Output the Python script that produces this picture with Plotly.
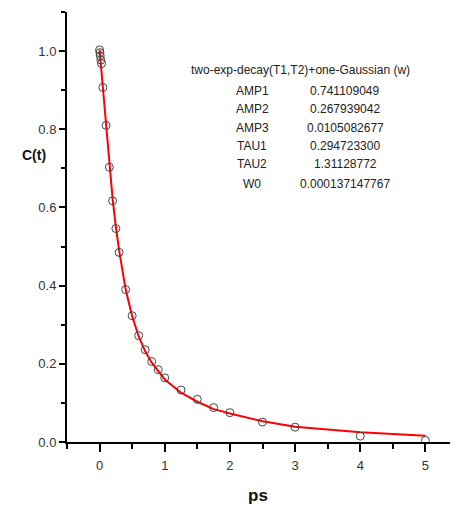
import plotly.graph_objects as go

t_data = [0.0, 0.005, 0.01, 0.02, 0.03, 0.05, 0.10, 0.15, 0.20, 0.25, 0.30, 0.40, 0.50,
          0.60, 0.70, 0.80, 0.90, 1.00, 1.25, 1.50, 1.75, 2.00, 2.50, 3.00, 4.00, 5.00]
c_data = [1.003, 0.996, 0.988, 0.977, 0.968, 0.907, 0.810, 0.703, 0.617, 0.546, 0.485, 0.390, 0.323,
          0.272, 0.236, 0.206, 0.185, 0.164, 0.133, 0.109, 0.088, 0.075, 0.051, 0.038, 0.015, 0.004]

# fitted curve (red)
t_fit = [0.0, 0.05, 0.10, 0.15, 0.20, 0.25, 0.30, 0.40, 0.50, 0.60, 0.70, 0.80, 0.90,
         1.00, 1.25, 1.50, 1.75, 2.00, 2.50, 3.00, 4.00, 5.00]
c_fit = [1.003, 0.905, 0.815, 0.710, 0.622, 0.550, 0.490, 0.390, 0.322, 0.270, 0.232, 0.203, 0.180,
         0.160, 0.126, 0.103, 0.084, 0.073, 0.053, 0.039, 0.025, 0.016]

fit_title = "two-exp-decay(T1,T2)+one-Gaussian (w)"
param_names = ["AMP1", "AMP2", "AMP3", "TAU1", "TAU2", "W0"]
param_values = ["0.741109049", "0.267939042", "0.0105082677", "0.294723300", "1.31128772", "0.000137147767"]

FONT = "Liberation Sans, Arial, sans-serif"

fit_trace = go.Scatter(
    x=t_fit, y=c_fit, mode="lines",
    line=dict(color="rgb(255,0,0)", width=2),
    showlegend=False, hoverinfo="skip"
)

data_trace = go.Scatter(
    x=t_data, y=c_data, mode="markers",
    marker=dict(symbol="circle-open", size=8, color="#444444", line=dict(width=1)),
    showlegend=False
)

fig = go.Figure(data=[fit_trace, data_trace])

# text block with the fit parameters
txt_font = dict(family=FONT, size=12, color="#222222")
annots = [dict(x=3.09, y=0.951, xref="x", yref="y", text=fit_title, showarrow=False, font=txt_font)]
row_y = [0.899, 0.851, 0.802, 0.756, 0.710, 0.661]
for name, val, yy in zip(param_names, param_values, row_y):
    annots.append(dict(x=2.34, y=yy, xref="x", yref="y", text=name, showarrow=False, font=txt_font))
    annots.append(dict(x=3.77, y=yy, xref="x", yref="y", text=val, showarrow=False, font=txt_font))

# axis titles sit horizontally, like the original
annots.append(dict(x=-0.085, y=0.667, xref="paper", yref="paper", text="<b>C(t)</b>",
                   xanchor="center", yanchor="middle", showarrow=False,
                   font=dict(family=FONT, size=14, color="#111111")))
annots.append(dict(x=0.488, y=-0.124, xref="paper", yref="paper", text="<b>ps</b>",
                   xanchor="center", yanchor="middle", showarrow=False,
                   font=dict(family=FONT, size=17, color="#111111")))

# page body has an 8px margin, so the figure is a little smaller than the window
fig.update_layout(
    width=450, height=500,
    margin=dict(l=59, r=0, t=4, b=66),
    paper_bgcolor="white", plot_bgcolor="white",
    annotations=annots,
    font=dict(family=FONT, size=13, color="#333333"),
    xaxis=dict(
        range=[-0.5, 5.5], tickvals=[0, 1, 2, 3, 4, 5],
        showline=True, linecolor="black", linewidth=2,
        ticks="outside", ticklen=8, tickwidth=2, tickcolor="black",
        minor=dict(dtick=0.5, ticks="outside", ticklen=5, tickwidth=2, tickcolor="black"),
        showgrid=False, zeroline=False, ticklabelstandoff=2,
    ),
    yaxis=dict(
        range=[0, 1.1], tickvals=[0, 0.2, 0.4, 0.6, 0.8, 1.0], tickformat=".1f",
        showline=True, linecolor="black", linewidth=2,
        ticks="outside", ticklen=6, tickwidth=2, tickcolor="black",
        minor=dict(dtick=0.1, ticks="outside", ticklen=4, tickwidth=2, tickcolor="black"),
        showgrid=False, zeroline=False, ticklabelstandoff=0,
    ),
)

fig.write_html("out.html")
